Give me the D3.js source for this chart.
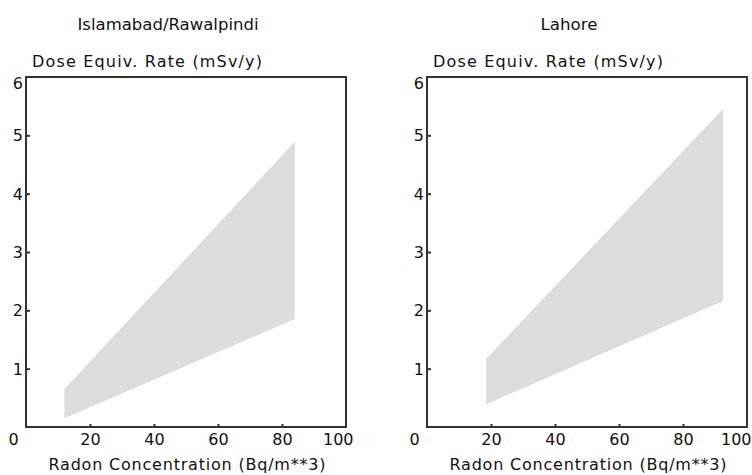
<!DOCTYPE html>
<html>
<head>
<meta charset="utf-8">
<script src="https://cdn.jsdelivr.net/npm/d3@7"></script>
<style>
  body { margin: 0; background: #fff; }
  text { font-family: "DejaVu Sans", sans-serif; fill: #111; }
</style>
</head>
<body>
<div id="chart"></div>
<script>
var svgWidth = 752;
var svgHeight = 475;

// data
var cities = ["Islamabad/Rawalpindi", "Lahore"];
var radonRange = [[12, 84], [18.5, 92.5]];       // Bq/m**3, band start / end
var doseLower = [[0.15, 1.85], [0.39, 2.16]];    // mSv/y at band start / end
var doseUpper = [[0.65, 4.89], [1.17, 5.45]];
var xTicks = [0, 20, 40, 60, 80, 100];
var yTicks = [1, 2, 3, 4, 5, 6];

var plotLeft = [26, 427];
var plotW = 320;
var plotTop = 77;
var plotBottom = 427;
var titleWidth = [181, 57];

var svg = d3.select("#chart")
  .append("svg")
  .attr("width", svgWidth)
  .attr("height", svgHeight);

cities.forEach(function(city, i) {
  var x0 = plotLeft[i];

  var xScale = d3.scaleLinear().domain([0, 100]).range([x0, x0 + plotW]);
  var yScale = d3.scaleLinear().domain([0, 6]).range([plotBottom, plotTop]);

  var band = radonRange[i].map(function(c, k) {
    return { c: c, lo: doseLower[i][k], hi: doseUpper[i][k] };
  });

  var area = d3.area()
    .x(d => xScale(d.c))
    .y0(d => yScale(d.lo))
    .y1(d => yScale(d.hi));

  svg.append("path")
    .datum(band)
    .attr("d", area)
    .attr("fill", "#dcdcdc");

  // frame
  svg.append("rect")
    .attr("x", xScale(0))
    .attr("y", yScale(6))
    .attr("width", xScale(100) - xScale(0))
    .attr("height", yScale(0) - yScale(6))
    .attr("fill", "none")
    .attr("stroke", "#333")
    .attr("stroke-width", 2);

  var xAxis = svg.append("g")
    .attr("transform", `translate(0, ${plotBottom})`)
    .call(d3.axisBottom(xScale).tickValues(xTicks).tickFormat(d3.format("d"))
      .tickSizeInner(-3).tickSizeOuter(0).tickPadding(6));

  var yAxis = svg.append("g")
    .attr("transform", `translate(${x0}, 0)`)
    .call(d3.axisLeft(yScale).tickValues(yTicks).tickFormat(d3.format("d"))
      .tickSizeInner(-4).tickSizeOuter(0).tickPadding(3));

  [xAxis, yAxis].forEach(function(ax) {
    ax.select(".domain").remove();
    ax.selectAll("line").attr("stroke", "#333").attr("stroke-width", 2);
    ax.selectAll("text")
      .style("font-family", "DejaVu Sans")
      .style("font-size", "16px")
      .attr("fill", "#111");
  });

  xAxis.selectAll(".tick")
    .filter(d => d === 0 || d === 100)
    .select("line").remove();
  xAxis.selectAll(".tick text")
    .attr("y", 7)
    .attr("dy", "0.71em")
    .attr("dx", d => d === 0 ? -13 : 0);
  // the 100 label sits a bit left of its tick, kept inside the picture
  xAxis.selectAll(".tick text")
    .filter(d => d === 100)
    .attr("text-anchor", "end")
    .attr("dx", Math.min(7, svgWidth - 1 - xScale(100)));

  yAxis.selectAll(".tick")
    .filter(d => d === 6)
    .select("line").remove();
  yAxis.selectAll(".tick text")
    .attr("dy", d => d === 6 ? "0.7em" : "0.35em");

  svg.append("text")
    .attr("x", x0 + 142 - titleWidth[i] / 2)
    .attr("y", 30)
    .style("font-size", "16px")
    .attr("textLength", titleWidth[i])
    .attr("lengthAdjust", "spacingAndGlyphs")
    .text(city);

  svg.append("text")
    .attr("x", x0 + 6)
    .attr("y", 67)
    .style("font-size", "16px")
    .attr("textLength", 230)
    .attr("lengthAdjust", "spacing")
    .text("Dose Equiv. Rate (mSv/y)");

  svg.append("text")
    .attr("x", x0 + 161 - 138.5)
    .attr("y", 470)
    .style("font-size", "16px")
    .attr("textLength", 277)
    .attr("lengthAdjust", "spacing")
    .text("Radon  Concentration (Bq/m**3)");
});
</script>
</body>
</html>
